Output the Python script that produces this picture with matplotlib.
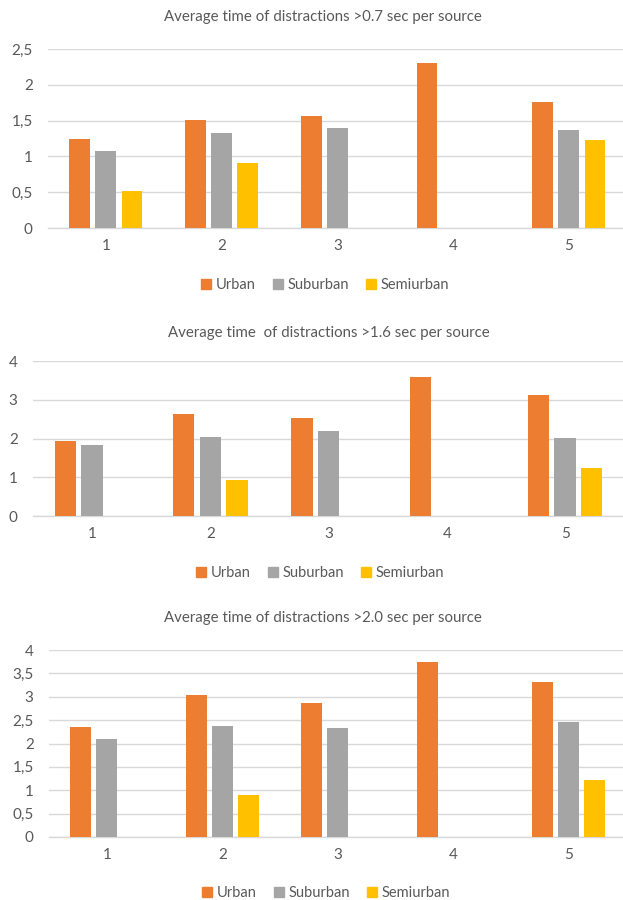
import matplotlib.pyplot as plt
import numpy as np
from matplotlib.ticker import FuncFormatter, MultipleLocator
from matplotlib.patches import Patch

plt.rcParams['font.family'] = ['Lato', 'DejaVu Sans']

sources = ["1", "2", "3", "4", "5"]
series_names = ["Urban", "Suburban", "Semiurban"]
colors = ["#ED7D31", "#A5A5A5", "#FFC000"]

# >0.7 sec
urban_07 = [1.25, 1.51, 1.56, 2.30, 1.76]
suburban_07 = [1.08, 1.32, 1.40, 0, 1.37]
semiurban_07 = [0.51, 0.91, 0, 0, 1.23]

# >1.6 sec
urban_16 = [1.93, 2.63, 2.52, 3.58, 3.11]
suburban_16 = [1.84, 2.03, 2.19, 0, 2.01]
semiurban_16 = [0, 0.92, 0, 0, 1.23]

# >2.0 sec
urban_20 = [2.36, 3.03, 2.87, 3.74, 3.32]
suburban_20 = [2.10, 2.38, 2.33, 0, 2.45]
semiurban_20 = [0, 0.90, 0, 0, 1.22]

W, H = 623, 900
fig = plt.figure(figsize=(W / 100, H / 100), dpi=100)
text_col = "#595959"
grid_col = "#D9D9D9"

# layout in pixels: plot area left edge, category spacing, top/bottom gridlines
panels = [
    dict(title="Average time of distractions >0.7 sec per source",
         data=[urban_07, suburban_07, semiurban_07], ymax=2.5, step=0.5,
         left=48, spacing=115.75, top=49, bottom=228,
         title_y=17, title_x=323, leg_y=285, leg_x=325),
    dict(title="Average time  of distractions >1.6 sec per source",
         data=[urban_16, suburban_16, semiurban_16], ymax=4, step=1,
         left=33, spacing=118.25, top=361, bottom=516,
         title_y=333, title_x=329, leg_y=573, leg_x=320),
    dict(title="Average time of distractions >2.0 sec per source",
         data=[urban_20, suburban_20, semiurban_20], ymax=4, step=0.5,
         left=49, spacing=115.5, top=650, bottom=837,
         title_y=618, title_x=323, leg_y=893, leg_x=326),
]


def fmt(v, pos):
    return ("%g" % v).replace(".", ",")


x = np.arange(len(sources))
width = 0.18
offset = 0.225

for p in panels:
    aw = p["spacing"] * len(sources)
    ax = fig.add_axes([p["left"] / W, 1 - p["bottom"] / H,
                       aw / W, (p["bottom"] - p["top"]) / H])
    for i, vals in enumerate(p["data"]):
        ax.bar(x + (i - 1) * offset, vals, width, color=colors[i], zorder=3)
    ax.set_xlim(-0.5, len(sources) - 0.5)
    ax.set_ylim(0, p["ymax"])
    ax.yaxis.set_major_locator(MultipleLocator(p["step"]))
    ax.yaxis.set_major_formatter(FuncFormatter(fmt))
    ax.set_xticks(x)
    ax.set_xticklabels(sources)
    ax.grid(axis="y", color=grid_col, linewidth=1.0, zorder=0)
    for s in ["top", "right", "left"]:
        ax.spines[s].set_visible(False)
    ax.spines["bottom"].set_color(grid_col)
    ax.spines["bottom"].set_linewidth(1.0)
    ax.tick_params(axis="both", length=0, colors=text_col, labelsize=11)
    ax.tick_params(axis="y", pad=11)
    ax.tick_params(axis="x", pad=8)
    ax.set_facecolor("none")

    fig.text(p["title_x"] / W, 1 - p["title_y"] / H, p["title"],
             ha="center", va="center", fontsize=10.8, color=text_col)
    handles = [Patch(color=c, label=n) for c, n in zip(colors, series_names)]
    fig.legend(handles=handles, loc="center", ncol=3, frameon=False,
               bbox_to_anchor=(p["leg_x"] / W, 1 - p["leg_y"] / H),
               fontsize=10.5, labelcolor=text_col, handlelength=0.7,
               handleheight=0.7, handletextpad=0.3, columnspacing=1.2)

fig.savefig("out.png", dpi=100)
